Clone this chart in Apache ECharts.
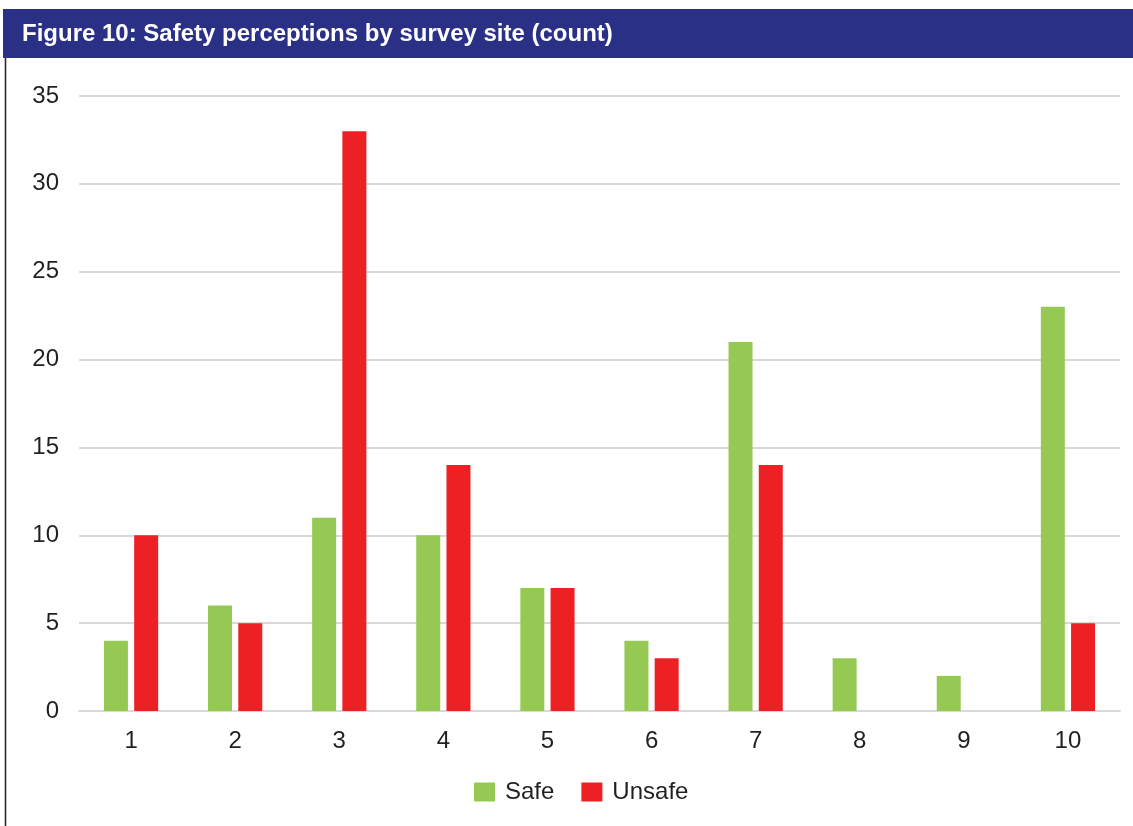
<!DOCTYPE html>
<html>
<head>
<meta charset="utf-8">
<script src="https://cdn.jsdelivr.net/npm/echarts@6/dist/echarts.min.js"></script>
<style>
  html, body { margin: 0; padding: 0; background: #ffffff; }
  #chart { width: 1133px; height: 826px; }
</style>
</head>
<body>
<div id="chart"></div>
<script>
// Survey sites and counts of respondents per perception
const sites = ['1', '2', '3', '4', '5', '6', '7', '8', '9', '10'];
const safeCounts = [4, 6, 11, 10, 7, 4, 21, 3, 2, 23];
const unsafeCounts = [10, 5, 33, 14, 7, 3, 14, 0, 0, 5];
const seriesNames = ['Safe', 'Unsafe'];
const titleText = 'Figure 10: Safety perceptions by survey site (count)';

const FONT = '"Liberation Sans", Arial, Helvetica, sans-serif';
const TEXT_COLOR = '#231f20';
const chart = echarts.init(document.getElementById('chart'), null, { renderer: 'canvas' });

chart.setOption({
  backgroundColor: '#ffffff',
  animation: false,
  graphic: [
    {
      type: 'rect',
      shape: { x: 3, y: 9, width: 1130, height: 49 },
      style: { fill: '#2b3087' },
      z: 0
    },
    {
      type: 'text',
      left: 22,
      top: 22,
      style: {
        text: titleText,
        fill: '#ffffff',
        font: 'bold 24px ' + FONT
      },
      z: 1
    },
    {
      type: 'line',
      shape: { x1: 5.5, y1: 58, x2: 5.5, y2: 826 },
      style: { stroke: TEXT_COLOR, lineWidth: 1.5 },
      z: 1
    }
  ],
  grid: { left: 79, right: 13, top: 96, bottom: 115, containLabel: false },
  legend: {
    data: seriesNames,
    bottom: 17,
    left: 469,
    itemWidth: 21,
    itemHeight: 19,
    itemGap: 27,
    icon: 'rect',
    textStyle: { fontFamily: FONT, fontSize: 24, color: TEXT_COLOR, padding: [0, 0, 0, 5] }
  },
  xAxis: {
    type: 'category',
    data: sites,
    axisLine: { show: true, lineStyle: { color: '#d9d9d9', width: 2 } },
    axisTick: { show: false },
    axisLabel: { fontFamily: FONT, fontSize: 24, color: TEXT_COLOR, margin: 18 }
  },
  yAxis: {
    type: 'value',
    min: 0,
    max: 35,
    interval: 5,
    axisLine: { show: false },
    axisTick: { show: false },
    splitLine: { lineStyle: { color: '#d9d9d9', width: 2 } },
    axisLabel: { fontFamily: FONT, fontSize: 24, color: TEXT_COLOR, margin: 20 }
  },
  series: [
    {
      name: seriesNames[0],
      type: 'bar',
      data: safeCounts,
      barWidth: 24,
      barGap: '26%',
      itemStyle: { color: '#95c954' }
    },
    {
      name: seriesNames[1],
      type: 'bar',
      data: unsafeCounts,
      barWidth: 24,
      itemStyle: { color: '#ed2024' }
    }
  ]
});
</script>
</body>
</html>
